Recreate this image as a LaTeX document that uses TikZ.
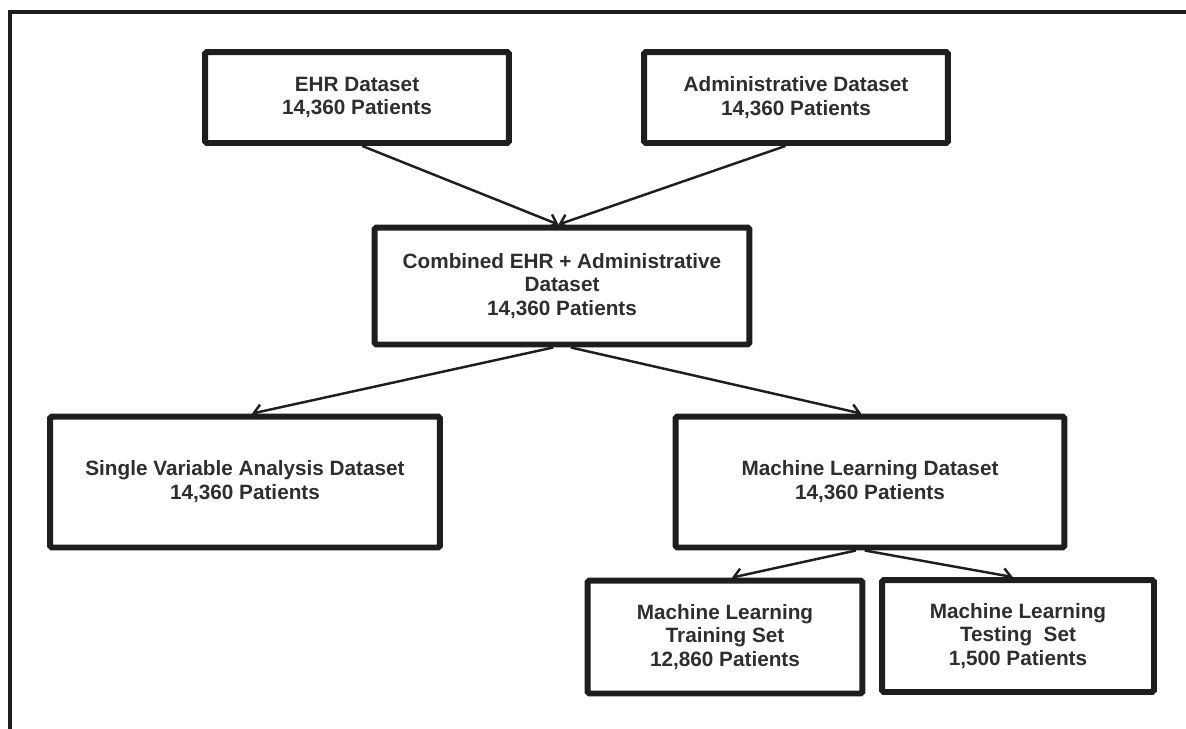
\documentclass[tikz,border=0pt]{standalone}
\usepackage{fontspec}
\setmainfont{Liberation Sans}
\usetikzlibrary{arrows.meta}

\definecolor{inkgray}{HTML}{1E1E1E}
\definecolor{txtgray}{HTML}{2E2E2E}

\begin{document}
\begin{tikzpicture}[x=0.02cm, y=-0.02cm,
	every node/.style={font=\fontsize{11.8}{13.6}\selectfont\bfseries, text=txtgray},
	box/.style={draw=inkgray, line width=3.4pt, rounded corners=1pt, align=center, inner sep=0pt},
	arr/.style={draw=inkgray, line width=1.4pt, -{Straight Barb[length=4.5pt,width=8pt]}}]
	\useasboundingbox (0,0) rectangle (1186,728);
	% outer frame, cut off at right and bottom
	\draw[inkgray, line width=2.3pt] (10,760) |- (1220,12);
	% top row
	\node[box, minimum width=6.08cm, minimum height=1.82cm] (ehr) at (357,97.5) {EHR Dataset\\14,360 Patients};
	\node[box, minimum width=6.08cm, minimum height=1.82cm] (adm) at (796,97.5) {Administrative Dataset\\14,360 Patients};
	% merged data
	\node[box, minimum width=7.5cm, minimum height=2.34cm] (comb) at (562,286) {Combined EHR + Administrative\\Dataset\\14,360 Patients};
	% analysis branches
	\node[box, minimum width=7.8cm, minimum height=2.62cm] (sva) at (245,482) {Single Variable Analysis Dataset\\14,360 Patients};
	\node[box, minimum width=7.78cm, minimum height=2.62cm] (ml) at (870,482) {Machine Learning Dataset\\14,360 Patients};
	% split
	\node[box, minimum width=5.5cm, minimum height=2.26cm] (train) at (725,637) {Machine Learning\\Training Set\\12,860 Patients};
	\node[box, minimum width=5.44cm, minimum height=2.24cm] (test) at (1018,636) {Machine Learning\\Testing\ \ Set\\1,500 Patients};
	\draw[arr] ([xshift=3pt]ehr.south) -- ([xshift=-2pt]comb.north);
	\draw[arr] ([xshift=-6pt]adm.south) -- ([xshift=-2pt]comb.north);
	\draw[arr] ([xshift=-5pt]comb.south) -- ([xshift=4pt]sva.north);
	\draw[arr] ([xshift=5pt]comb.south) -- ([xshift=-5pt]ml.north);
	\draw[arr] ([xshift=-8pt]ml.south) -- ([xshift=4pt]train.north);
	\draw[arr] ([xshift=-3pt]ml.south) -- ([xshift=-3pt]test.north);
\end{tikzpicture}
\end{document}
